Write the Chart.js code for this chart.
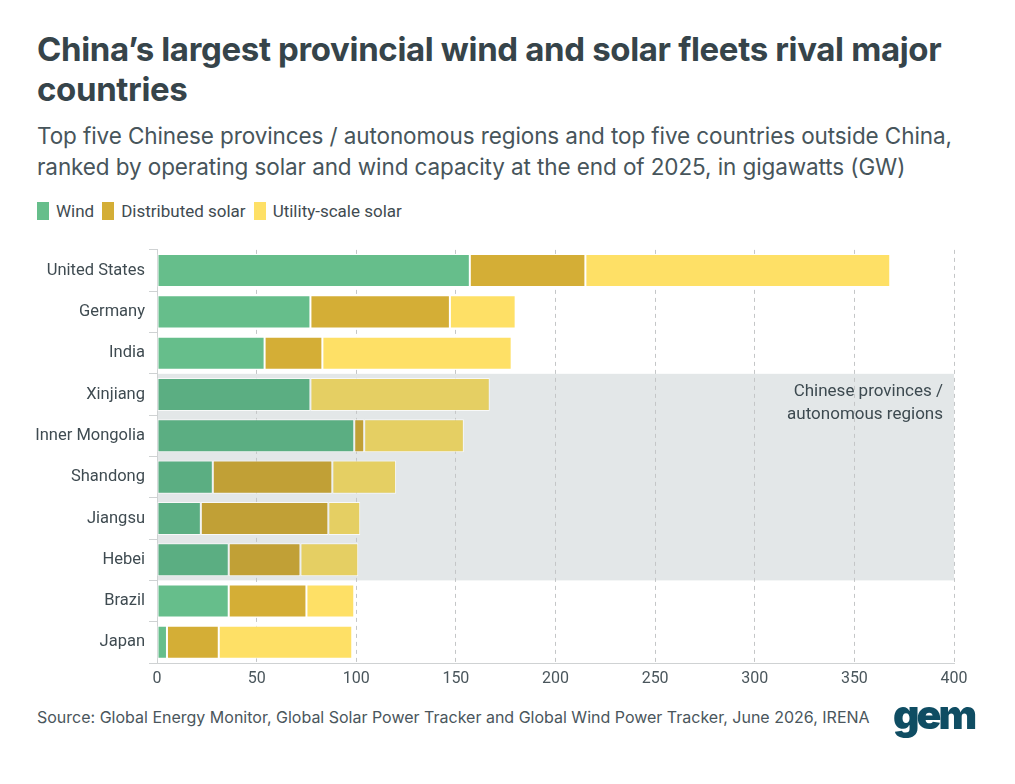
<!DOCTYPE html>
<html>
<head>
<meta charset="utf-8">
<script src="https://cdn.jsdelivr.net/npm/chart.js@4"></script>
<style>
  body { margin: 0; width: 1015px; height: 784px; background: #fff; position: relative; overflow: hidden; font-family: Inter, "Noto Sans", sans-serif; color: #36454b; }
  .title { position: absolute; left: 37px; top: 29px; width: 960px; font-size: 33px; font-weight: 700; line-height: 40px; letter-spacing: -0.35px; color: #36444a; }
  .sub { position: absolute; left: 37px; top: 120px; width: 970px; font-size: 22.5px; line-height: 31px; letter-spacing: -0.1px; color: #47555b; }
  .legend { position: absolute; left: 37px; top: 201px; font-family: Roboto, sans-serif; font-size: 17px; color: #3f4b51; display: flex; gap: 8px; }
  .legend span { display: inline-flex; align-items: center; }
  .legend i { display: inline-block; width: 12px; height: 18px; margin-right: 7px; }
  .source { position: absolute; left: 37px; top: 707px; font-size: 16px; color: #4a565c; }
  .logo { position: absolute; left: 893px; top: 689px; font-size: 41px; font-weight: 900; letter-spacing: -3px; color: #0f4d63; }
  #wrap { position: absolute; left: 0; top: 236px; width: 1015px; height: 457px; }
</style>
</head>
<body>
<div class="title">China’s largest provincial wind and solar fleets rival major countries</div>
<div class="sub">Top five Chinese provinces / autonomous regions and top five countries outside China, ranked by operating solar and wind capacity at the end of 2025, in gigawatts (GW)</div>
<div class="legend">
  <span><i style="background:#66be8b"></i>Wind</span>
  <span><i style="background:#d4ae36"></i>Distributed solar</span>
  <span><i style="background:#fee066"></i>Utility-scale solar</span>
</div>
<div id="wrap"><canvas id="chart"></canvas></div>
<div class="source">Source: Global Energy Monitor, Global Solar Power Tracker and Global Wind Power Tracker, June 2026, IRENA</div>
<div class="logo">gem</div>
<script>
const places = ['United States', 'Germany', 'India', 'Xinjiang', 'Inner Mongolia', 'Shandong', 'Jiangsu', 'Hebei', 'Brazil', 'Japan']
const chinese = ['Xinjiang', 'Inner Mongolia', 'Shandong', 'Jiangsu', 'Hebei']
const wind = [157, 77, 54, 77, 99, 28, 22, 36, 36, 5]
const distributed = [58, 70, 29, 0, 5, 60, 64, 36, 39, 26]
const utility = [153, 33, 95, 90, 50, 32, 16, 29, 24, 67]
const xTicks = [0, 50, 100, 150, 200, 250, 300, 350, 400]

const pick = (a, b) => places.map(p => chinese.includes(p) ? b : a)

const bandPlugin = {
  id: 'band',
  beforeDraw(chart) {
    const { ctx, chartArea, scales } = chart
    const first = places.indexOf(chinese[0])
    const last = places.indexOf(chinese[chinese.length - 1])
    const half = (scales.y.getPixelForValue(1) - scales.y.getPixelForValue(0)) / 2
    const top = scales.y.getPixelForValue(first) - half
    const bot = scales.y.getPixelForValue(last) + half
    ctx.save()
    ctx.fillStyle = '#e3e7e8'
    ctx.fillRect(chartArea.left, top, chartArea.right - chartArea.left, bot - top)
    ctx.restore()
  },
  afterDraw(chart) {
    const { ctx, chartArea, scales } = chart
    const y0 = scales.y.getPixelForValue(places.indexOf(chinese[0]))
    ctx.save()
    ctx.font = '17px Roboto'
    ctx.fillStyle = '#3d4a50'
    ctx.textAlign = 'right'
    ctx.textBaseline = 'middle'
    ctx.fillText('Chinese provinces /', chartArea.right - 11, y0 - 3)
    ctx.fillText('autonomous regions', chartArea.right - 11, y0 + 20)
    ctx.restore()
  }
}

new Chart(document.getElementById('chart'), {
  type: 'bar',
  data: {
    labels: places,
    datasets: [
      { label: 'Wind', data: wind, backgroundColor: pick('#66be8b', '#5bae82') },
      { label: 'Distributed solar', data: distributed, backgroundColor: pick('#d4ae36', '#c1a036') },
      { label: 'Utility-scale solar', data: utility, backgroundColor: pick('#fee066', '#e5cf63') }
    ]
  },
  options: {
    indexAxis: 'y',
    responsive: true,
    maintainAspectRatio: false,
    animation: false,
    layout: { padding: { top: 8.5, right: 61, bottom: 0, left: 0 } },
    datasets: {
      bar: {
        categoryPercentage: 1,
        barPercentage: 0.8,
        borderWidth: 1,
        borderColor: 'rgba(255,255,255,0.75)',
        borderSkipped: false
      }
    },
    plugins: { legend: { display: false }, tooltip: { enabled: false } },
    scales: {
      x: {
        stacked: true,
        min: 0,
        max: 400,
        afterBuildTicks: s => { s.ticks = xTicks.map(v => ({ value: v })) },
        afterFit: s => { s.height = 30 },
        grid: {
          color: ctx => ctx.tick && ctx.tick.value === 0 ? 'rgba(0,0,0,0)' : '#c4c6c7',
          lineWidth: 1,
          drawTicks: false
        },
        border: { display: true, color: '#cfd2d3', dash: [4, 4] },
        ticks: { padding: 6, color: '#4a565c', font: { family: 'Roboto', size: 16 } }
      },
      y: {
        stacked: true,
        afterFit: s => { s.width = 157 },
        grid: { drawOnChartArea: false, drawTicks: true, tickLength: 8, color: '#cfd2d3' },
        border: { display: true, color: '#cfd2d3' },
        ticks: { padding: 4, color: '#3f4b51', font: { family: 'Roboto', size: 16.5 } }
      }
    }
  },
  plugins: [bandPlugin]
})
</script>
</body>
</html>
